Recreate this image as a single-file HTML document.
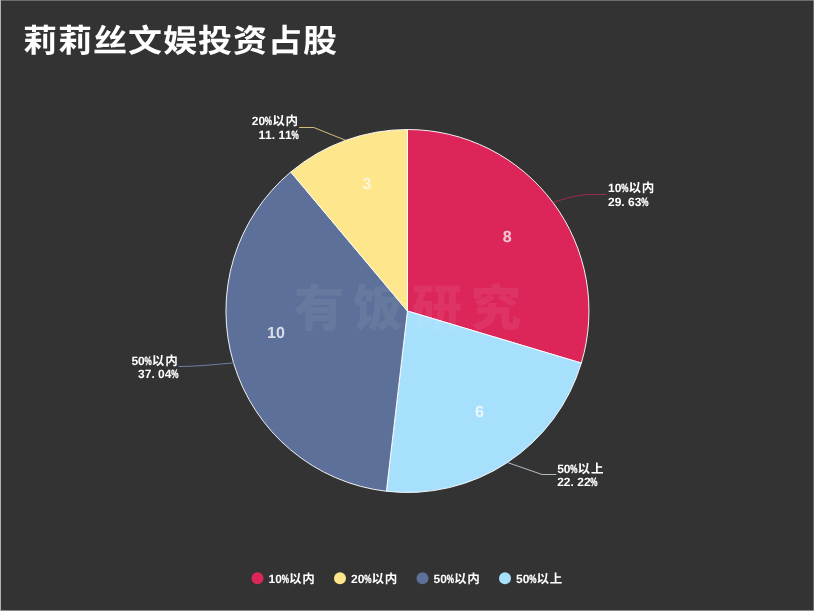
<!DOCTYPE html>
<html lang="zh-CN">
<head>
<meta charset="utf-8">
<title>莉莉丝文娱投资占股</title>
<style>
  html, body { margin: 0; padding: 0; background: #333333; }
  body { width: 814px; height: 611px; overflow: hidden; position: relative; }
  svg { position: absolute; left: 0; top: 0; display: block; text-rendering: geometricPrecision; }
  .title { font-family: "Liberation Sans", "Noto Sans CJK SC", sans-serif; font-weight: 700; font-size: 34px; letter-spacing: 1px; fill: #ffffff; }
  .lat { font-family: "Liberation Sans", "Noto Sans CJK SC", sans-serif; font-weight: 700; font-size: 12px; fill: #ffffff; }
  .cjk { font-family: "Liberation Sans", "Noto Sans CJK SC", sans-serif; font-weight: 700; font-size: 12.5px; fill: #ffffff; }
  .num { font-family: "Liberation Sans", "Noto Sans CJK SC", sans-serif; font-weight: 700; font-size: 16px; fill: #ffffff; fill-opacity: 0.75; text-anchor: middle; }
  .wm { font-family: "Liberation Sans", "Noto Sans CJK SC", sans-serif; font-weight: 900; font-size: 50px; fill: #ffffff; fill-opacity: 0.068; letter-spacing: 9px; }
  .ll { fill: none; stroke-width: 1; stroke-linecap: round; stroke-linejoin: round; }
</style>
</head>
<body>
<svg width="814" height="611" viewBox="0 0 814 611">
  <rect x="0" y="0" width="814" height="611" fill="#333333"/>
  <!-- frame -->
  <rect x="0" y="0" width="814" height="1" fill="#6d6d6d"/>
  <rect x="813" y="0" width="1" height="611" fill="#6d6d6d"/>
  <rect x="0" y="610" width="814" height="1" fill="#8a8a8a"/>
  <rect x="0" y="0" width="1" height="611" fill="#b2b2b2"/>
  <rect x="813" y="0" width="1" height="1" fill="#8e8e8e"/>
  <rect x="813" y="610" width="1" height="1" fill="#999999"/>

  <text class="title" x="23" y="52" transform="translate(0 52) scale(1 0.94) translate(0 -52)">莉莉丝文娱投资占股</text>

  <!-- pie -->
  <g stroke="#ffffff" stroke-width="1" stroke-opacity="0.92" stroke-linejoin="round">
    <path d="M407.45 311.0L407.45 129.50A181.5 181.5 0 0 1 581.33 363.05Z" fill="#dc265a"/>
    <path d="M407.45 311.0L581.33 363.05A181.5 181.5 0 0 1 386.38 491.27Z" fill="#a7e0fc"/>
    <path d="M407.45 311.0L386.38 491.27A181.5 181.5 0 0 1 290.78 171.96Z" fill="#5c7099"/>
    <path d="M407.45 311.0L290.78 171.96A181.5 181.5 0 0 1 407.45 129.50Z" fill="#fde68b"/>
  </g>

  <!-- watermark -->
  <text class="wm" x="294" y="326">有饭研究</text>

  <!-- leader lines -->
  <path class="ll" stroke="#dc265a" stroke-opacity="0.62" d="M553.5 202.4C565 198.5 578 194.5 591 194.5L606 194.5"/>
  <path class="ll" stroke="#c4d6df" stroke-opacity="0.85" d="M507.2 462.4L542 474.5L556 474.5"/>
  <path class="ll" stroke="#6f82a8" stroke-opacity="0.95" d="M233.6 362.9C215 364.5 197 366.5 179 366.5"/>
  <path class="ll" stroke="#fde68b" stroke-opacity="0.78" d="M345.4 140.2L313.8 127.5L299.5 127.5"/>

  <!-- outside labels -->
  <text class="lat" x="608.00 614.67" y="192">10<tspan x="621.14" textLength="7.20" lengthAdjust="spacingAndGlyphs" stroke="#ffffff" stroke-width="0.35">%</tspan><tspan class="cjk" x="628.41 641.74">以内</tspan></text>
  <text class="lat" x="608.00 614.67 621.34 628.01 634.68" y="205.9">29.63<tspan x="641.15" textLength="7.20" lengthAdjust="spacingAndGlyphs" stroke="#ffffff" stroke-width="0.35">%</tspan></text>
  <text class="lat" x="557.20 563.87" y="472.9">50<tspan x="570.34" textLength="7.20" lengthAdjust="spacingAndGlyphs" stroke="#ffffff" stroke-width="0.35">%</tspan><tspan class="cjk" x="577.61 590.94">以上</tspan></text>
  <text class="lat" x="557.20 563.87 570.54 577.21 583.88" y="485.9">22.22<tspan x="590.35" textLength="7.20" lengthAdjust="spacingAndGlyphs" stroke="#ffffff" stroke-width="0.35">%</tspan></text>
  <text class="lat" x="131.43 138.10" y="364.8">50<tspan x="144.57" textLength="7.20" lengthAdjust="spacingAndGlyphs" stroke="#ffffff" stroke-width="0.35">%</tspan><tspan class="cjk" x="151.84 165.17">以内</tspan></text>
  <text class="lat" x="138.08 144.75 151.42 158.09 164.76" y="377.7">37.04<tspan x="171.23" textLength="7.20" lengthAdjust="spacingAndGlyphs" stroke="#ffffff" stroke-width="0.35">%</tspan></text>
  <text class="lat" x="251.73 258.40" y="125.2">20<tspan x="264.87" textLength="7.20" lengthAdjust="spacingAndGlyphs" stroke="#ffffff" stroke-width="0.35">%</tspan><tspan class="cjk" x="272.14 285.47">以内</tspan></text>
  <text class="lat" x="258.38 265.05 271.72 278.39 285.06" y="139.3">11.11<tspan x="291.53" textLength="7.20" lengthAdjust="spacingAndGlyphs" stroke="#ffffff" stroke-width="0.35">%</tspan></text>

  <!-- inside value labels -->
  <text class="num" x="507.2" y="241.5">8</text>
  <text class="num" x="479.4" y="417">6</text>
  <text class="num" x="276" y="338.3">10</text>
  <text class="num" x="367" y="188.5" style="fill-opacity:0.65">3</text>

  <!-- legend -->
  <circle cx="257.50" cy="578.3" r="6" fill="#dc265a"/>
  <text class="lat" x="268.60 275.27" y="582.6">10<tspan x="281.74" textLength="7.20" lengthAdjust="spacingAndGlyphs" stroke="#ffffff" stroke-width="0.35">%</tspan><tspan class="cjk" x="289.01 302.34">以内</tspan></text>
  <circle cx="340.00" cy="578.3" r="6" fill="#fde68b"/>
  <text class="lat" x="351.10 357.77" y="582.6">20<tspan x="364.24" textLength="7.20" lengthAdjust="spacingAndGlyphs" stroke="#ffffff" stroke-width="0.35">%</tspan><tspan class="cjk" x="371.51 384.84">以内</tspan></text>
  <circle cx="422.50" cy="578.3" r="6" fill="#5c7099"/>
  <text class="lat" x="433.60 440.27" y="582.6">50<tspan x="446.74" textLength="7.20" lengthAdjust="spacingAndGlyphs" stroke="#ffffff" stroke-width="0.35">%</tspan><tspan class="cjk" x="454.01 467.34">以内</tspan></text>
  <circle cx="505.00" cy="578.3" r="6" fill="#a7e0fc"/>
  <text class="lat" x="516.10 522.77" y="582.6">50<tspan x="529.24" textLength="7.20" lengthAdjust="spacingAndGlyphs" stroke="#ffffff" stroke-width="0.35">%</tspan><tspan class="cjk" x="536.51 549.84">以上</tspan></text>
</svg>
</body>
</html>
